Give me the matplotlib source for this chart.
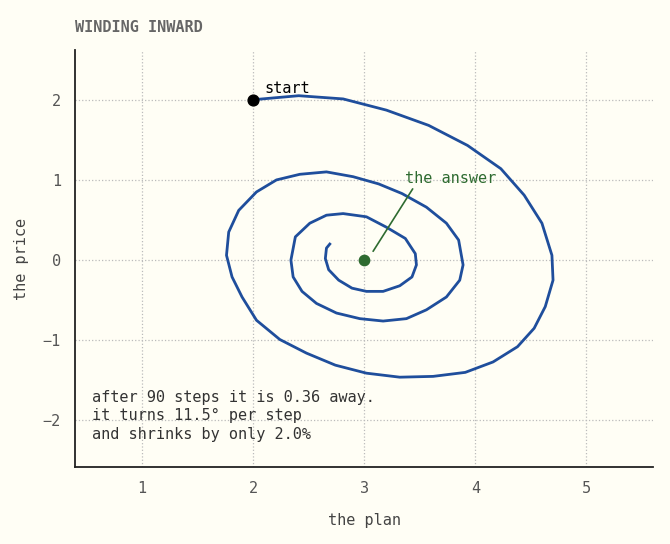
import matplotlib
matplotlib.use("Agg")
import matplotlib.pyplot as plt

# spiral path
path_x = [2.00, 2.41, 2.81, 3.20, 3.58, 3.93, 4.23, 4.44, 4.60, 4.69, 4.70, 4.63, 4.53, 4.38,
          4.16, 3.91, 3.62, 3.32, 3.02, 2.74, 2.48, 2.24, 2.03, 1.90, 1.81, 1.76, 1.78, 1.87,
          2.03, 2.21, 2.42, 2.66, 2.90, 3.13, 3.34, 3.56, 3.74, 3.85, 3.89, 3.86, 3.74, 3.56,
          3.38, 3.17, 2.96, 2.75, 2.57, 2.44, 2.36, 2.34, 2.38, 2.51, 2.66, 2.81, 3.02, 3.20,
          3.37, 3.46, 3.47, 3.43, 3.32, 3.17, 3.02, 2.89, 2.77, 2.68, 2.65, 2.66, 2.69]
path_y = [2.00, 2.05, 2.01, 1.87, 1.68, 1.43, 1.14, 0.81, 0.46, 0.06, -0.25, -0.58, -0.85, -1.08,
          -1.27, -1.40, -1.45, -1.46, -1.41, -1.31, -1.16, -0.99, -0.75, -0.46, -0.21, 0.06, 0.35, 0.62,
          0.85, 1.00, 1.07, 1.10, 1.04, 0.95, 0.83, 0.66, 0.46, 0.25, -0.06, -0.25, -0.46, -0.62,
          -0.73, -0.76, -0.73, -0.66, -0.54, -0.39, -0.21, 0.00, 0.29, 0.46, 0.56, 0.58, 0.54, 0.41,
          0.27, 0.08, -0.06, -0.21, -0.32, -0.39, -0.39, -0.35, -0.25, -0.12, 0.02, 0.15, 0.20]
start = (2.0, 2.0)
answer = (3.0, 0.0)
note_lines = ["after 90 steps it is 0.36 away.", "it turns 11.5° per step", "and shrinks by only 2.0%"]

BG = "#fffef5"
BLUE = "#1f4e9c"
GREEN = "#2e6b30"
GREY = "#555555"
plt.rcParams["font.family"] = ["DejaVu Sans Mono"]

fig = plt.figure(figsize=(6.7, 5.44), dpi=100, facecolor=BG)
ax = fig.add_axes([75 / 670, 1 - 467 / 544, 578 / 670, 417 / 544], facecolor=BG)

ax.plot(path_x, path_y, color=BLUE, lw=2, zorder=3)
ax.scatter(*start, s=60, color="black", zorder=4)
ax.text(start[0] + 0.1, start[1] + 0.08, "start", fontsize=11, color="black")
ax.scatter(*answer, s=55, color=GREEN, zorder=4)
ax.annotate("the answer", xy=(3.08, 0.11), xytext=(3.37, 0.96), fontsize=11, color=GREEN,
            arrowprops=dict(arrowstyle="-", color=GREEN, lw=1.2, shrinkA=0, shrinkB=0,
                            relpos=(0.1, 0.0)))

ax.text(0.03, 0.185, "\n".join(note_lines), transform=ax.transAxes, fontsize=11,
        color="#333333", va="top", linespacing=1.3)

ax.set_xlim(0.396, 5.60)
ax.set_ylim(-2.58, 2.62)
ax.set_xticks([1, 2, 3, 4, 5])
ax.set_yticks([-2, -1, 0, 1, 2])
ax.set_yticklabels(["\u22122", "\u22121", "0", "1", "2"])
ax.tick_params(colors=GREY, labelsize=11, length=0, pad=10)
ax.grid(True, linestyle=":", color="#bbbbbb", lw=0.9)
for s in ["top", "right"]:
    ax.spines[s].set_visible(False)
for s in ["left", "bottom"]:
    ax.spines[s].set_color("#222222")
    ax.spines[s].set_linewidth(1.3)
ax.set_xlabel("the plan", fontsize=11, color="#444444", labelpad=12)
ax.set_ylabel("the price", fontsize=11, color="#444444", labelpad=10)
fig.text(75 / 670, 1 - 28 / 544, "WINDING INWARD", fontsize=11, fontweight="bold",
         color="#666666", va="center")

fig.savefig("out.png", dpi=100, facecolor=BG)
